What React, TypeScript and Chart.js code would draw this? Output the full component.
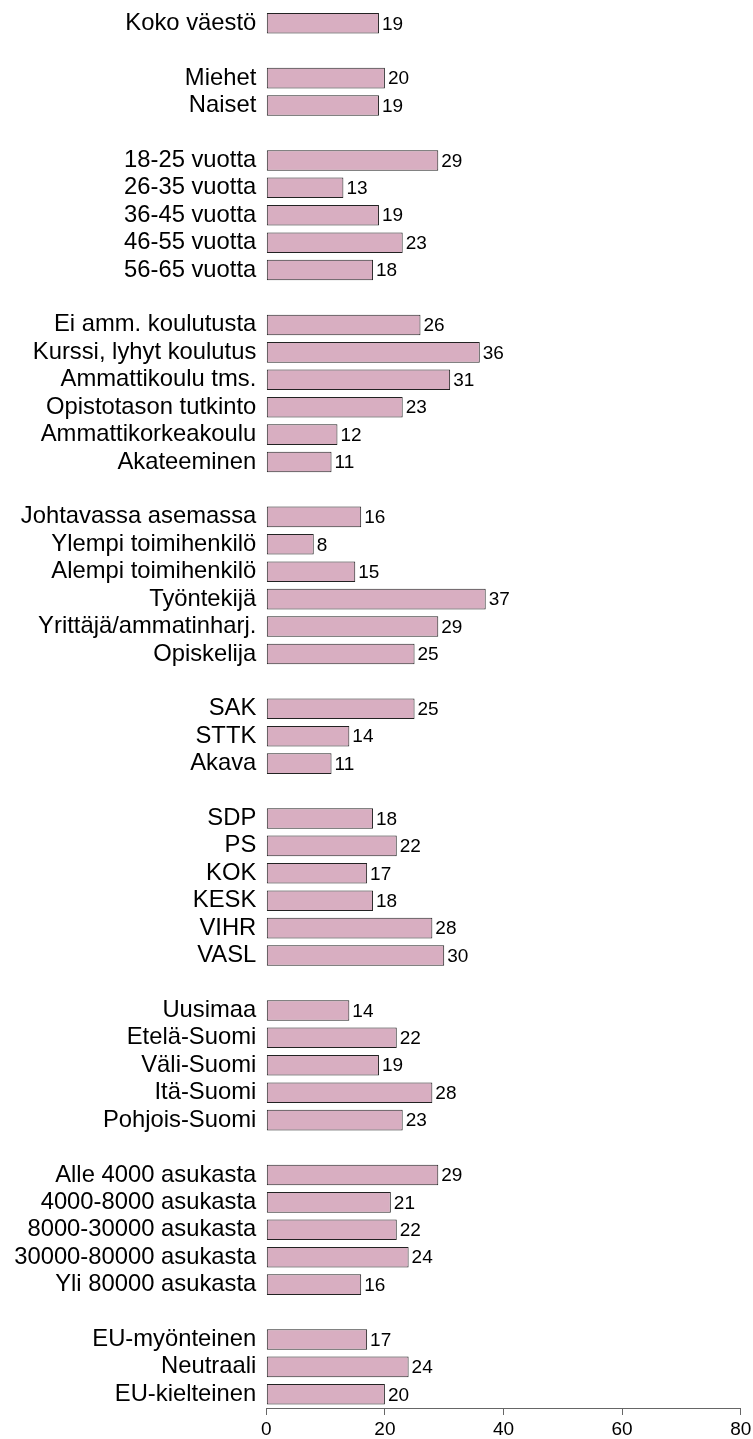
import React, { useEffect, useRef } from "react";
import { Chart, registerables } from "chart.js";

Chart.register(...registerables);

const groupLabels: string[][] = [
  ["Koko väestö"],
  ["Miehet", "Naiset"],
  ["18-25 vuotta", "26-35 vuotta", "36-45 vuotta", "46-55 vuotta", "56-65 vuotta"],
  ["Ei amm. koulutusta", "Kurssi, lyhyt koulutus", "Ammattikoulu tms.", "Opistotason tutkinto", "Ammattikorkeakoulu", "Akateeminen"],
  ["Johtavassa asemassa", "Ylempi toimihenkilö", "Alempi toimihenkilö", "Työntekijä", "Yrittäjä/ammatinharj.", "Opiskelija"],
  ["SAK", "STTK", "Akava"],
  ["SDP", "PS", "KOK", "KESK", "VIHR", "VASL"],
  ["Uusimaa", "Etelä-Suomi", "Väli-Suomi", "Itä-Suomi", "Pohjois-Suomi"],
  ["Alle 4000 asukasta", "4000-8000 asukasta", "8000-30000 asukasta", "30000-80000 asukasta", "Yli 80000 asukasta"],
  ["EU-myönteinen", "Neutraali", "EU-kielteinen"],
];

const groupValues: number[][] = [
  [19],
  [20, 19],
  [29, 13, 19, 23, 18],
  [26, 36, 31, 23, 12, 11],
  [16, 8, 15, 37, 29, 25],
  [25, 14, 11],
  [18, 22, 17, 18, 28, 30],
  [14, 22, 19, 28, 23],
  [29, 21, 22, 24, 16],
  [17, 24, 20],
];

const xTicks: number[] = [0, 20, 40, 60, 80];

const FONT = "'Liberation Sans', Arial, sans-serif";

function buildRows() {
  const labels: string[] = [];
  const values: (number | null)[] = [];
  groupLabels.forEach((g, gi) => {
    if (gi > 0) {
      labels.push("");
      values.push(null);
    }
    g.forEach((l, i) => {
      labels.push(l);
      values.push(groupValues[gi][i]);
    });
  });
  return { labels, values };
}

const valueLabelPlugin = {
  id: "valueLabels",
  afterDatasetsDraw(chart: any) {
    const ctx = chart.ctx;
    const meta = chart.getDatasetMeta(0);
    const data = chart.data.datasets[0].data;
    ctx.save();
    ctx.font = `19px ${FONT}`;
    ctx.fillStyle = "#000";
    ctx.textAlign = "left";
    ctx.textBaseline = "middle";
    meta.data.forEach((el: any, i: number) => {
      const v = data[i];
      if (v === null || v === undefined) return;
      ctx.fillText(String(v), el.x + 3, el.y + 1);
    });
    ctx.restore();
  },
};

export default function App() {
  const ref = useRef<HTMLCanvasElement | null>(null);

  useEffect(() => {
    if (!ref.current) return;
    const { labels, values } = buildRows();
    const chart = new Chart(ref.current, {
      type: "bar",
      data: {
        labels,
        datasets: [
          {
            data: values,
            backgroundColor: "#d8aec1",
            borderColor: "#222222",
            borderWidth: 1,
            borderSkipped: false,
            barPercentage: 0.75,
            categoryPercentage: 1,
          },
        ],
      },
      options: {
        indexAxis: "y",
        animation: false,
        responsive: true,
        maintainAspectRatio: false,
        layout: { padding: { top: 9.6, right: 12.3, left: 0, bottom: 0 } },
        plugins: {
          legend: { display: false },
          tooltip: { enabled: false },
        },
        scales: {
          x: {
            type: "linear",
            min: 0,
            max: 80,
            afterBuildTicks: (scale: any) => {
              scale.ticks = xTicks.map((v) => ({ value: v }));
            },
            afterFit: (scale: any) => {
              scale.height = 31;
              scale.paddingLeft = 0;
              scale.paddingRight = 0;
            },
            ticks: {
              color: "#000",
              font: { family: FONT, size: 19 },
              padding: 3,
            },
            grid: {
              display: true,
              drawOnChartArea: false,
              drawTicks: true,
              tickLength: 7,
              color: "#666666",
              lineWidth: 1,
            },
            border: { display: true, color: "#666666", width: 1 },
          },
          y: {
            type: "category",
            afterFit: (scale: any) => {
              scale.width = 266.3;
              scale.paddingTop = 0;
              scale.paddingBottom = 0;
            },
            ticks: {
              color: "#000",
              font: { family: FONT, size: 23.8 },
              padding: 10,
              autoSkip: false,
            },
            grid: { display: false, drawTicks: false },
            border: { display: false },
          },
        },
      },
      plugins: [valueLabelPlugin],
    });
    return () => chart.destroy();
  }, []);

  return (
    <div style={{ position: "absolute", left: 0, top: 0, width: 753, height: 1439 }}>
      <canvas ref={ref} />
    </div>
  );
}
